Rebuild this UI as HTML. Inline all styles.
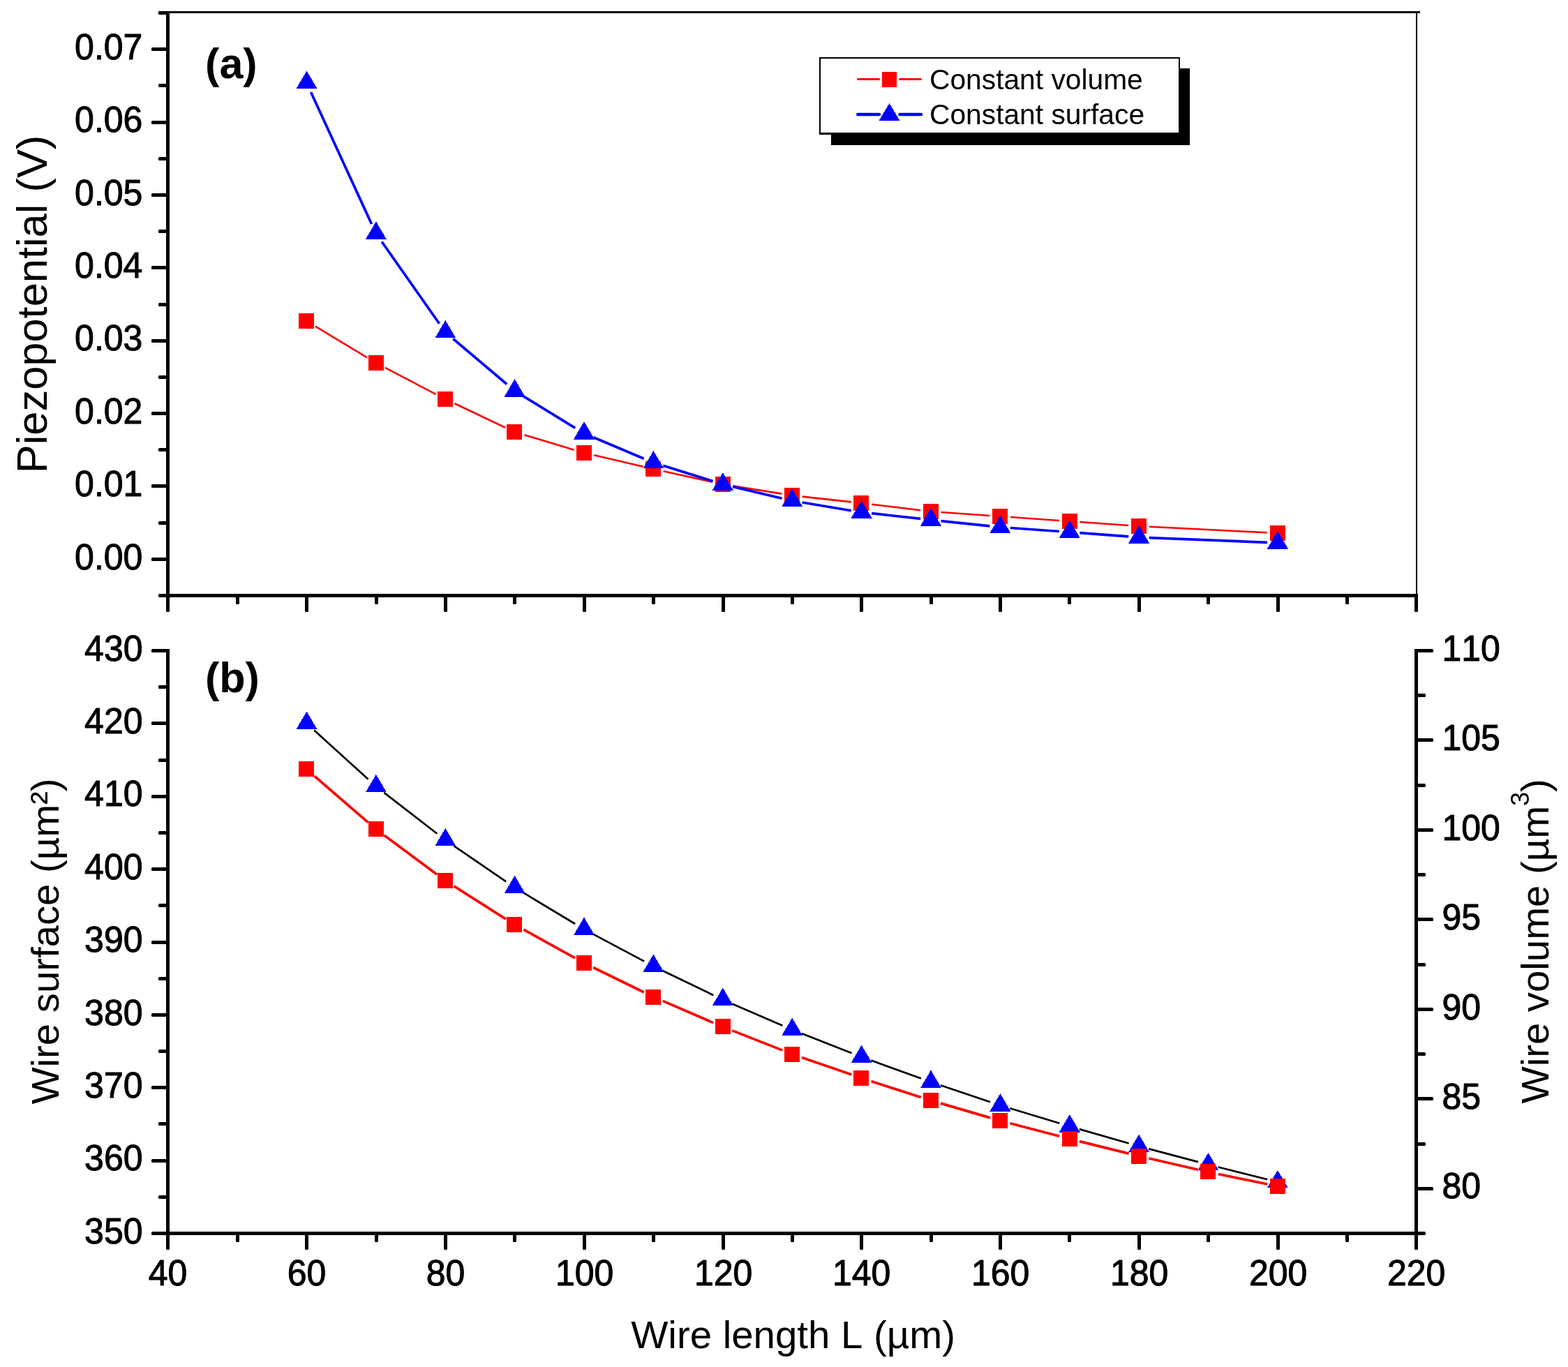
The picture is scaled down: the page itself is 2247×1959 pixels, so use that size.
<!DOCTYPE html>
<html><head><meta charset="utf-8"><title>Piezopotential vs wire length</title>
<style>
html,body{margin:0;padding:0;background:#fff;}
body{width:2247px;height:1959px;overflow:hidden;}
svg{display:block;font-family:"Liberation Sans",Arial,Helvetica,sans-serif;fill:#000;font-kerning:none;}
svg rect,svg polygon{shape-rendering:crispEdges;}
svg rect.t{shape-rendering:auto;}
</style></head><body>
<svg width="2247" height="1959" viewBox="0 0 2247 1959">
<rect x="0" y="0" width="2247" height="1959" fill="#fff"/>
<rect x="227" y="16" width="1808" height="3" fill="#000"/>
<rect class="t" x="227" y="16" width="13" height="5" rx="1.6" ry="1.6" fill="#000"/>
<rect class="t" x="227" y="851" width="13" height="5" rx="1.6" ry="1.6" fill="#000"/>
<rect x="238" y="16" width="5" height="854" fill="#000"/>
<rect x="2029" y="16" width="2" height="836" fill="#000"/>
<rect x="238" y="851" width="1794" height="5" fill="#000"/>
<rect class="t" x="217" y="799" width="23" height="5" rx="1.6" ry="1.6" fill="#000"/>
<text transform="translate(204.4 815.513) scale(1 1.04)" font-size="50" text-anchor="end" stroke="#000" stroke-width="1.0" stroke-linejoin="round">0.00</text>
<rect class="t" x="217" y="694" width="23" height="5" rx="1.6" ry="1.6" fill="#000"/>
<text transform="translate(204.4 711.138) scale(1 1.04)" font-size="50" text-anchor="end" stroke="#000" stroke-width="1.0" stroke-linejoin="round">0.01</text>
<rect class="t" x="217" y="590" width="23" height="5" rx="1.6" ry="1.6" fill="#000"/>
<text transform="translate(204.4 606.763) scale(1 1.04)" font-size="50" text-anchor="end" stroke="#000" stroke-width="1.0" stroke-linejoin="round">0.02</text>
<rect class="t" x="217" y="486" width="23" height="5" rx="1.6" ry="1.6" fill="#000"/>
<text transform="translate(204.4 502.388) scale(1 1.04)" font-size="50" text-anchor="end" stroke="#000" stroke-width="1.0" stroke-linejoin="round">0.03</text>
<rect class="t" x="217" y="381" width="23" height="5" rx="1.6" ry="1.6" fill="#000"/>
<text transform="translate(204.4 398.013) scale(1 1.04)" font-size="50" text-anchor="end" stroke="#000" stroke-width="1.0" stroke-linejoin="round">0.04</text>
<rect class="t" x="217" y="277" width="23" height="5" rx="1.6" ry="1.6" fill="#000"/>
<text transform="translate(204.4 293.637) scale(1 1.04)" font-size="50" text-anchor="end" stroke="#000" stroke-width="1.0" stroke-linejoin="round">0.05</text>
<rect class="t" x="217" y="173" width="23" height="5" rx="1.6" ry="1.6" fill="#000"/>
<text transform="translate(204.4 189.262) scale(1 1.04)" font-size="50" text-anchor="end" stroke="#000" stroke-width="1.0" stroke-linejoin="round">0.06</text>
<rect class="t" x="217" y="68" width="23" height="5" rx="1.6" ry="1.6" fill="#000"/>
<text transform="translate(204.4 84.8875) scale(1 1.04)" font-size="50" text-anchor="end" stroke="#000" stroke-width="1.0" stroke-linejoin="round">0.07</text>
<rect class="t" x="227" y="747" width="13" height="5" rx="1.6" ry="1.6" fill="#000"/>
<rect class="t" x="227" y="642" width="13" height="5" rx="1.6" ry="1.6" fill="#000"/>
<rect class="t" x="227" y="538" width="13" height="5" rx="1.6" ry="1.6" fill="#000"/>
<rect class="t" x="227" y="434" width="13" height="5" rx="1.6" ry="1.6" fill="#000"/>
<rect class="t" x="227" y="329" width="13" height="5" rx="1.6" ry="1.6" fill="#000"/>
<rect class="t" x="227" y="225" width="13" height="5" rx="1.6" ry="1.6" fill="#000"/>
<rect class="t" x="227" y="120" width="13" height="5" rx="1.6" ry="1.6" fill="#000"/>
<rect class="t" x="238" y="852" width="5" height="25" rx="1.6" ry="1.6" fill="#000"/>
<rect class="t" x="338" y="852" width="5" height="14" rx="1.6" ry="1.6" fill="#000"/>
<rect class="t" x="437" y="852" width="5" height="25" rx="1.6" ry="1.6" fill="#000"/>
<rect class="t" x="537" y="852" width="5" height="14" rx="1.6" ry="1.6" fill="#000"/>
<rect class="t" x="636" y="852" width="5" height="25" rx="1.6" ry="1.6" fill="#000"/>
<rect class="t" x="735" y="852" width="5" height="14" rx="1.6" ry="1.6" fill="#000"/>
<rect class="t" x="835" y="852" width="5" height="25" rx="1.6" ry="1.6" fill="#000"/>
<rect class="t" x="934" y="852" width="5" height="14" rx="1.6" ry="1.6" fill="#000"/>
<rect class="t" x="1034" y="852" width="5" height="25" rx="1.6" ry="1.6" fill="#000"/>
<rect class="t" x="1133" y="852" width="5" height="14" rx="1.6" ry="1.6" fill="#000"/>
<rect class="t" x="1232" y="852" width="5" height="25" rx="1.6" ry="1.6" fill="#000"/>
<rect class="t" x="1332" y="852" width="5" height="14" rx="1.6" ry="1.6" fill="#000"/>
<rect class="t" x="1431" y="852" width="5" height="25" rx="1.6" ry="1.6" fill="#000"/>
<rect class="t" x="1530" y="852" width="5" height="14" rx="1.6" ry="1.6" fill="#000"/>
<rect class="t" x="1630" y="852" width="5" height="25" rx="1.6" ry="1.6" fill="#000"/>
<rect class="t" x="1729" y="852" width="5" height="14" rx="1.6" ry="1.6" fill="#000"/>
<rect class="t" x="1829" y="852" width="5" height="25" rx="1.6" ry="1.6" fill="#000"/>
<rect class="t" x="1928" y="852" width="5" height="14" rx="1.6" ry="1.6" fill="#000"/>
<rect class="t" x="2027" y="852" width="5" height="25" rx="1.6" ry="1.6" fill="#000"/>
<rect x="238" y="930" width="5" height="855" fill="#000"/>
<rect x="2027" y="930" width="5" height="855" fill="#000"/>
<rect x="238" y="1765" width="1794" height="5" fill="#000"/>
<rect class="t" x="217" y="1765" width="23" height="5" rx="1.6" ry="1.6" fill="#000"/>
<text transform="translate(204.5 1781.7) scale(1 1.04)" font-size="50" text-anchor="end" stroke="#000" stroke-width="1.0" stroke-linejoin="round">350</text>
<rect class="t" x="227" y="1713" width="13" height="5" rx="1.6" ry="1.6" fill="#000"/>
<rect class="t" x="217" y="1661" width="23" height="5" rx="1.6" ry="1.6" fill="#000"/>
<text transform="translate(204.5 1677.33) scale(1 1.04)" font-size="50" text-anchor="end" stroke="#000" stroke-width="1.0" stroke-linejoin="round">360</text>
<rect class="t" x="227" y="1608" width="13" height="5" rx="1.6" ry="1.6" fill="#000"/>
<rect class="t" x="217" y="1556" width="23" height="5" rx="1.6" ry="1.6" fill="#000"/>
<text transform="translate(204.5 1572.95) scale(1 1.04)" font-size="50" text-anchor="end" stroke="#000" stroke-width="1.0" stroke-linejoin="round">370</text>
<rect class="t" x="227" y="1504" width="13" height="5" rx="1.6" ry="1.6" fill="#000"/>
<rect class="t" x="217" y="1452" width="23" height="5" rx="1.6" ry="1.6" fill="#000"/>
<text transform="translate(204.5 1468.58) scale(1 1.04)" font-size="50" text-anchor="end" stroke="#000" stroke-width="1.0" stroke-linejoin="round">380</text>
<rect class="t" x="227" y="1400" width="13" height="5" rx="1.6" ry="1.6" fill="#000"/>
<rect class="t" x="217" y="1348" width="23" height="5" rx="1.6" ry="1.6" fill="#000"/>
<text transform="translate(204.5 1364.2) scale(1 1.04)" font-size="50" text-anchor="end" stroke="#000" stroke-width="1.0" stroke-linejoin="round">390</text>
<rect class="t" x="227" y="1295" width="13" height="5" rx="1.6" ry="1.6" fill="#000"/>
<rect class="t" x="217" y="1243" width="23" height="5" rx="1.6" ry="1.6" fill="#000"/>
<text transform="translate(204.5 1259.83) scale(1 1.04)" font-size="50" text-anchor="end" stroke="#000" stroke-width="1.0" stroke-linejoin="round">400</text>
<rect class="t" x="227" y="1191" width="13" height="5" rx="1.6" ry="1.6" fill="#000"/>
<rect class="t" x="217" y="1139" width="23" height="5" rx="1.6" ry="1.6" fill="#000"/>
<text transform="translate(204.5 1155.45) scale(1 1.04)" font-size="50" text-anchor="end" stroke="#000" stroke-width="1.0" stroke-linejoin="round">410</text>
<rect class="t" x="227" y="1087" width="13" height="5" rx="1.6" ry="1.6" fill="#000"/>
<rect class="t" x="217" y="1034" width="23" height="5" rx="1.6" ry="1.6" fill="#000"/>
<text transform="translate(204.5 1051.08) scale(1 1.04)" font-size="50" text-anchor="end" stroke="#000" stroke-width="1.0" stroke-linejoin="round">420</text>
<rect class="t" x="227" y="982" width="13" height="5" rx="1.6" ry="1.6" fill="#000"/>
<rect class="t" x="217" y="930" width="23" height="5" rx="1.6" ry="1.6" fill="#000"/>
<text transform="translate(204.5 946.7) scale(1 1.04)" font-size="50" text-anchor="end" stroke="#000" stroke-width="1.0" stroke-linejoin="round">430</text>
<rect class="t" x="2028" y="1765" width="15" height="5" rx="1.6" ry="1.6" fill="#000"/>
<rect class="t" x="2028" y="1701" width="26" height="5" rx="1.6" ry="1.6" fill="#000"/>
<text transform="translate(2066.4 1717.47) scale(1 1.04)" font-size="50" text-anchor="start" stroke="#000" stroke-width="1.0" stroke-linejoin="round">80</text>
<rect class="t" x="2028" y="1637" width="15" height="5" rx="1.6" ry="1.6" fill="#000"/>
<rect class="t" x="2028" y="1572" width="26" height="5" rx="1.6" ry="1.6" fill="#000"/>
<text transform="translate(2066.4 1589.01) scale(1 1.04)" font-size="50" text-anchor="start" stroke="#000" stroke-width="1.0" stroke-linejoin="round">85</text>
<rect class="t" x="2028" y="1508" width="15" height="5" rx="1.6" ry="1.6" fill="#000"/>
<rect class="t" x="2028" y="1444" width="26" height="5" rx="1.6" ry="1.6" fill="#000"/>
<text transform="translate(2066.4 1460.55) scale(1 1.04)" font-size="50" text-anchor="start" stroke="#000" stroke-width="1.0" stroke-linejoin="round">90</text>
<rect class="t" x="2028" y="1380" width="15" height="5" rx="1.6" ry="1.6" fill="#000"/>
<rect class="t" x="2028" y="1315" width="26" height="5" rx="1.6" ry="1.6" fill="#000"/>
<text transform="translate(2066.4 1332.08) scale(1 1.04)" font-size="50" text-anchor="start" stroke="#000" stroke-width="1.0" stroke-linejoin="round">95</text>
<rect class="t" x="2028" y="1251" width="15" height="5" rx="1.6" ry="1.6" fill="#000"/>
<rect class="t" x="2028" y="1187" width="26" height="5" rx="1.6" ry="1.6" fill="#000"/>
<text transform="translate(2066.4 1203.62) scale(1 1.04)" font-size="50" text-anchor="start" stroke="#000" stroke-width="1.0" stroke-linejoin="round">100</text>
<rect class="t" x="2028" y="1123" width="15" height="5" rx="1.6" ry="1.6" fill="#000"/>
<rect class="t" x="2028" y="1058" width="26" height="5" rx="1.6" ry="1.6" fill="#000"/>
<text transform="translate(2066.4 1075.16) scale(1 1.04)" font-size="50" text-anchor="start" stroke="#000" stroke-width="1.0" stroke-linejoin="round">105</text>
<rect class="t" x="2028" y="994" width="15" height="5" rx="1.6" ry="1.6" fill="#000"/>
<rect class="t" x="2028" y="930" width="26" height="5" rx="1.6" ry="1.6" fill="#000"/>
<text transform="translate(2066.4 946.7) scale(1 1.04)" font-size="50" text-anchor="start" stroke="#000" stroke-width="1.0" stroke-linejoin="round">110</text>
<rect class="t" x="238" y="1766" width="5" height="25" rx="1.6" ry="1.6" fill="#000"/>
<text transform="translate(240.6 1841.8) scale(1 1.04)" font-size="50" text-anchor="middle" stroke="#000" stroke-width="1.0" stroke-linejoin="round">40</text>
<rect class="t" x="338" y="1766" width="5" height="14" rx="1.6" ry="1.6" fill="#000"/>
<rect class="t" x="437" y="1766" width="5" height="25" rx="1.6" ry="1.6" fill="#000"/>
<text transform="translate(439.6 1841.8) scale(1 1.04)" font-size="50" text-anchor="middle" stroke="#000" stroke-width="1.0" stroke-linejoin="round">60</text>
<rect class="t" x="537" y="1766" width="5" height="14" rx="1.6" ry="1.6" fill="#000"/>
<rect class="t" x="636" y="1766" width="5" height="25" rx="1.6" ry="1.6" fill="#000"/>
<text transform="translate(638.6 1841.8) scale(1 1.04)" font-size="50" text-anchor="middle" stroke="#000" stroke-width="1.0" stroke-linejoin="round">80</text>
<rect class="t" x="735" y="1766" width="5" height="14" rx="1.6" ry="1.6" fill="#000"/>
<rect class="t" x="835" y="1766" width="5" height="25" rx="1.6" ry="1.6" fill="#000"/>
<text transform="translate(837.6 1841.8) scale(1 1.04)" font-size="50" text-anchor="middle" stroke="#000" stroke-width="1.0" stroke-linejoin="round">100</text>
<rect class="t" x="934" y="1766" width="5" height="14" rx="1.6" ry="1.6" fill="#000"/>
<rect class="t" x="1034" y="1766" width="5" height="25" rx="1.6" ry="1.6" fill="#000"/>
<text transform="translate(1036.6 1841.8) scale(1 1.04)" font-size="50" text-anchor="middle" stroke="#000" stroke-width="1.0" stroke-linejoin="round">120</text>
<rect class="t" x="1133" y="1766" width="5" height="14" rx="1.6" ry="1.6" fill="#000"/>
<rect class="t" x="1232" y="1766" width="5" height="25" rx="1.6" ry="1.6" fill="#000"/>
<text transform="translate(1234.6 1841.8) scale(1 1.04)" font-size="50" text-anchor="middle" stroke="#000" stroke-width="1.0" stroke-linejoin="round">140</text>
<rect class="t" x="1332" y="1766" width="5" height="14" rx="1.6" ry="1.6" fill="#000"/>
<rect class="t" x="1431" y="1766" width="5" height="25" rx="1.6" ry="1.6" fill="#000"/>
<text transform="translate(1433.6 1841.8) scale(1 1.04)" font-size="50" text-anchor="middle" stroke="#000" stroke-width="1.0" stroke-linejoin="round">160</text>
<rect class="t" x="1530" y="1766" width="5" height="14" rx="1.6" ry="1.6" fill="#000"/>
<rect class="t" x="1630" y="1766" width="5" height="25" rx="1.6" ry="1.6" fill="#000"/>
<text transform="translate(1632.6 1841.8) scale(1 1.04)" font-size="50" text-anchor="middle" stroke="#000" stroke-width="1.0" stroke-linejoin="round">180</text>
<rect class="t" x="1729" y="1766" width="5" height="14" rx="1.6" ry="1.6" fill="#000"/>
<rect class="t" x="1829" y="1766" width="5" height="25" rx="1.6" ry="1.6" fill="#000"/>
<text transform="translate(1831.6 1841.8) scale(1 1.04)" font-size="50" text-anchor="middle" stroke="#000" stroke-width="1.0" stroke-linejoin="round">200</text>
<rect class="t" x="1928" y="1766" width="5" height="14" rx="1.6" ry="1.6" fill="#000"/>
<rect class="t" x="2027" y="1766" width="5" height="25" rx="1.6" ry="1.6" fill="#000"/>
<text transform="translate(2029.6 1841.8) scale(1 1.04)" font-size="50" text-anchor="middle" stroke="#000" stroke-width="1.0" stroke-linejoin="round">220</text>
<text x="1136.6" y="1932" font-size="56.4" text-anchor="middle" font-weight="normal">Wire length L (µm)</text>
<text x="67" y="436" font-size="61.4" text-anchor="middle" font-weight="normal" transform="rotate(-90 67 436)">Piezopotential (V)</text>
<text x="83.5" y="1349" font-size="56.3" text-anchor="middle" font-weight="normal" transform="rotate(-90 83.5 1349)">Wire surface (µm²)</text>
<text x="2219.5" y="1348.8" font-size="56.3" text-anchor="middle" font-weight="normal" transform="rotate(-90 2219.5 1348.8)">Wire volume (µm<tspan font-size="36" dy="-28">3</tspan><tspan dy="28">)</tspan></text>
<text x="331.4" y="111.8" font-size="61" text-anchor="middle" font-weight="bold">(a)</text>
<text x="333" y="991.8" font-size="61" text-anchor="middle" font-weight="bold">(b)</text>
<line x1="451.9" y1="467.6" x2="526.0" y2="512.4" stroke="#f00" stroke-width="2.6"/>
<line x1="551.8" y1="526.9" x2="624.9" y2="565.1" stroke="#f00" stroke-width="2.6"/>
<line x1="651.4" y1="578.3" x2="724.1" y2="612.7" stroke="#f00" stroke-width="2.6"/>
<line x1="751.6" y1="623.3" x2="822.7" y2="644.7" stroke="#f00" stroke-width="2.6"/>
<line x1="851.3" y1="652.3" x2="921.8" y2="668.7" stroke="#f00" stroke-width="2.6"/>
<line x1="950.7" y1="675.2" x2="1021.2" y2="690.8" stroke="#f00" stroke-width="2.6"/>
<line x1="1050.2" y1="696.4" x2="1120.4" y2="707.6" stroke="#f00" stroke-width="2.6"/>
<line x1="1149.7" y1="711.6" x2="1219.7" y2="719.4" stroke="#f00" stroke-width="2.6"/>
<line x1="1249.1" y1="722.8" x2="1319.1" y2="731.2" stroke="#f00" stroke-width="2.6"/>
<line x1="1348.5" y1="734.0" x2="1418.4" y2="739.0" stroke="#f00" stroke-width="2.6"/>
<line x1="1447.9" y1="741.0" x2="1517.8" y2="746.0" stroke="#f00" stroke-width="2.6"/>
<line x1="1547.3" y1="748.0" x2="1617.2" y2="753.0" stroke="#f00" stroke-width="2.6"/>
<line x1="1646.7" y1="754.7" x2="1815.9" y2="763.3" stroke="#f00" stroke-width="2.6"/>
<rect x="428" y="449" width="22" height="22" fill="#f00"/>
<rect x="528" y="509" width="22" height="22" fill="#f00"/>
<rect x="627" y="561" width="22" height="22" fill="#f00"/>
<rect x="726" y="608" width="22" height="22" fill="#f00"/>
<rect x="826" y="638" width="22" height="22" fill="#f00"/>
<rect x="925" y="661" width="22" height="22" fill="#f00"/>
<rect x="1025" y="683" width="22" height="22" fill="#f00"/>
<rect x="1124" y="699" width="22" height="22" fill="#f00"/>
<rect x="1223" y="710" width="22" height="22" fill="#f00"/>
<rect x="1323" y="722" width="22" height="22" fill="#f00"/>
<rect x="1422" y="729" width="22" height="22" fill="#f00"/>
<rect x="1522" y="736" width="22" height="22" fill="#f00"/>
<rect x="1621" y="743" width="22" height="22" fill="#f00"/>
<rect x="1820" y="753" width="22" height="22" fill="#f00"/>
<line x1="445.5" y1="131.9" x2="532.5" y2="321.0" stroke="#00f" stroke-width="3.7"/>
<line x1="547.2" y1="346.5" x2="629.5" y2="463.8" stroke="#00f" stroke-width="3.7"/>
<line x1="649.3" y1="485.5" x2="726.2" y2="550.5" stroke="#00f" stroke-width="3.7"/>
<line x1="750.1" y1="567.8" x2="824.2" y2="613.3" stroke="#00f" stroke-width="3.7"/>
<line x1="850.5" y1="626.7" x2="922.6" y2="657.2" stroke="#00f" stroke-width="3.7"/>
<line x1="950.3" y1="667.3" x2="1021.5" y2="689.6" stroke="#00f" stroke-width="3.7"/>
<line x1="1050.0" y1="697.4" x2="1120.6" y2="714.2" stroke="#00f" stroke-width="3.7"/>
<line x1="1149.6" y1="720.0" x2="1219.8" y2="731.7" stroke="#00f" stroke-width="3.7"/>
<line x1="1249.1" y1="735.7" x2="1319.1" y2="743.4" stroke="#00f" stroke-width="3.7"/>
<line x1="1348.5" y1="746.6" x2="1418.4" y2="753.9" stroke="#00f" stroke-width="3.7"/>
<line x1="1447.9" y1="756.5" x2="1517.8" y2="761.5" stroke="#00f" stroke-width="3.7"/>
<line x1="1547.3" y1="763.6" x2="1617.2" y2="768.9" stroke="#00f" stroke-width="3.7"/>
<line x1="1646.7" y1="770.6" x2="1815.9" y2="777.4" stroke="#00f" stroke-width="3.7"/>
<polygon points="439.5,101.5 424.5,127.0 454.5,127.0" fill="#00f"/>
<polygon points="538.9,317.4 523.9,342.9 553.9,342.9" fill="#00f"/>
<polygon points="638.3,458.9 623.3,484.4 653.3,484.4" fill="#00f"/>
<polygon points="737.6,543.1 722.6,568.6 752.6,568.6" fill="#00f"/>
<polygon points="837.0,604.0 822.0,629.5 852.0,629.5" fill="#00f"/>
<polygon points="936.4,645.9 921.4,671.4 951.4,671.4" fill="#00f"/>
<polygon points="1035.8,677.0 1020.8,702.5 1050.8,702.5" fill="#00f"/>
<polygon points="1135.2,700.6 1120.2,726.1 1150.2,726.1" fill="#00f"/>
<polygon points="1234.6,717.1 1219.6,742.6 1249.6,742.6" fill="#00f"/>
<polygon points="1334.0,728.0 1319.0,753.5 1349.0,753.5" fill="#00f"/>
<polygon points="1433.4,738.5 1418.4,764.0 1448.4,764.0" fill="#00f"/>
<polygon points="1532.8,745.5 1517.8,771.0 1547.8,771.0" fill="#00f"/>
<polygon points="1632.1,753.0 1617.1,778.5 1647.1,778.5" fill="#00f"/>
<polygon points="1830.9,761.0 1815.9,786.5 1845.9,786.5" fill="#00f"/>
<line x1="450.2" y1="1046.5" x2="527.7" y2="1116.8" stroke="#000" stroke-width="2.7"/>
<line x1="550.4" y1="1135.9" x2="626.4" y2="1194.7" stroke="#000" stroke-width="2.7"/>
<line x1="650.3" y1="1212.2" x2="725.2" y2="1263.4" stroke="#000" stroke-width="2.7"/>
<line x1="750.1" y1="1279.4" x2="824.2" y2="1324.0" stroke="#000" stroke-width="2.7"/>
<line x1="849.9" y1="1338.6" x2="923.2" y2="1377.6" stroke="#000" stroke-width="2.7"/>
<line x1="949.5" y1="1391.0" x2="1022.3" y2="1426.2" stroke="#000" stroke-width="2.7"/>
<line x1="1049.2" y1="1438.5" x2="1121.4" y2="1469.7" stroke="#000" stroke-width="2.7"/>
<line x1="1148.8" y1="1481.0" x2="1220.6" y2="1509.2" stroke="#000" stroke-width="2.7"/>
<line x1="1248.3" y1="1519.6" x2="1319.9" y2="1545.6" stroke="#000" stroke-width="2.7"/>
<line x1="1347.8" y1="1555.3" x2="1419.1" y2="1579.3" stroke="#000" stroke-width="2.7"/>
<line x1="1447.3" y1="1588.3" x2="1518.4" y2="1609.7" stroke="#000" stroke-width="2.7"/>
<line x1="1546.8" y1="1618.1" x2="1617.7" y2="1638.5" stroke="#000" stroke-width="2.7"/>
<line x1="1646.3" y1="1646.4" x2="1717.0" y2="1665.1" stroke="#000" stroke-width="2.7"/>
<line x1="1745.7" y1="1672.5" x2="1816.4" y2="1690.3" stroke="#000" stroke-width="2.7"/>
<polygon points="439.5,1019.5 424.5,1045.0 454.5,1045.0" fill="#00f"/>
<polygon points="538.9,1109.8 523.9,1135.3 553.9,1135.3" fill="#00f"/>
<polygon points="638.3,1186.8 623.3,1212.3 653.3,1212.3" fill="#00f"/>
<polygon points="737.6,1254.8 722.6,1280.3 752.6,1280.3" fill="#00f"/>
<polygon points="837.0,1314.6 822.0,1340.1 852.0,1340.1" fill="#00f"/>
<polygon points="936.4,1367.6 921.4,1393.1 951.4,1393.1" fill="#00f"/>
<polygon points="1035.8,1415.6 1020.8,1441.1 1050.8,1441.1" fill="#00f"/>
<polygon points="1135.2,1458.6 1120.2,1484.1 1150.2,1484.1" fill="#00f"/>
<polygon points="1234.6,1497.6 1219.6,1523.1 1249.6,1523.1" fill="#00f"/>
<polygon points="1334.0,1533.6 1319.0,1559.1 1349.0,1559.1" fill="#00f"/>
<polygon points="1433.4,1567.0 1418.4,1592.5 1448.4,1592.5" fill="#00f"/>
<polygon points="1532.8,1597.0 1517.8,1622.5 1547.8,1622.5" fill="#00f"/>
<polygon points="1632.1,1625.6 1617.1,1651.1 1647.1,1651.1" fill="#00f"/>
<polygon points="1731.5,1651.9 1716.5,1677.4 1746.5,1677.4" fill="#00f"/>
<polygon points="1830.9,1676.9 1815.9,1702.4 1845.9,1702.4" fill="#00f"/>
<line x1="450.5" y1="1112.1" x2="527.5" y2="1178.6" stroke="#f00" stroke-width="3.7"/>
<line x1="550.6" y1="1197.1" x2="626.2" y2="1253.2" stroke="#f00" stroke-width="3.7"/>
<line x1="650.6" y1="1269.9" x2="724.9" y2="1317.1" stroke="#f00" stroke-width="3.7"/>
<line x1="750.4" y1="1332.2" x2="823.9" y2="1372.8" stroke="#f00" stroke-width="3.7"/>
<line x1="850.1" y1="1386.5" x2="922.9" y2="1422.0" stroke="#f00" stroke-width="3.7"/>
<line x1="949.8" y1="1434.4" x2="1022.0" y2="1465.6" stroke="#f00" stroke-width="3.7"/>
<line x1="1049.4" y1="1476.9" x2="1121.2" y2="1505.1" stroke="#f00" stroke-width="3.7"/>
<line x1="1149.0" y1="1515.4" x2="1220.4" y2="1540.1" stroke="#f00" stroke-width="3.7"/>
<line x1="1248.5" y1="1549.5" x2="1319.7" y2="1572.5" stroke="#f00" stroke-width="3.7"/>
<line x1="1348.0" y1="1581.1" x2="1419.0" y2="1601.9" stroke="#f00" stroke-width="3.7"/>
<line x1="1447.5" y1="1609.7" x2="1518.2" y2="1628.3" stroke="#f00" stroke-width="3.7"/>
<line x1="1546.9" y1="1635.6" x2="1617.6" y2="1653.1" stroke="#f00" stroke-width="3.7"/>
<line x1="1646.4" y1="1660.0" x2="1716.9" y2="1676.2" stroke="#f00" stroke-width="3.7"/>
<line x1="1745.8" y1="1682.5" x2="1816.2" y2="1697.0" stroke="#f00" stroke-width="3.7"/>
<rect x="428" y="1091" width="22" height="22" fill="#f00"/>
<rect x="528" y="1177" width="22" height="22" fill="#f00"/>
<rect x="627" y="1251" width="22" height="22" fill="#f00"/>
<rect x="726" y="1314" width="22" height="22" fill="#f00"/>
<rect x="826" y="1369" width="22" height="22" fill="#f00"/>
<rect x="925" y="1418" width="22" height="22" fill="#f00"/>
<rect x="1025" y="1460" width="22" height="22" fill="#f00"/>
<rect x="1124" y="1500" width="22" height="22" fill="#f00"/>
<rect x="1223" y="1534" width="22" height="22" fill="#f00"/>
<rect x="1323" y="1566" width="22" height="22" fill="#f00"/>
<rect x="1422" y="1595" width="22" height="22" fill="#f00"/>
<rect x="1522" y="1621" width="22" height="22" fill="#f00"/>
<rect x="1621" y="1646" width="22" height="22" fill="#f00"/>
<rect x="1720" y="1668" width="22" height="22" fill="#f00"/>
<rect x="1820" y="1689" width="22" height="22" fill="#f00"/>
<rect x="1191" y="98" width="514" height="110" fill="#000"/>
<rect x="1174" y="82" width="517" height="111" fill="#000"/>
<rect x="1176" y="84" width="513" height="106" fill="#fff"/>
<line x1="1229.5" y1="113.5" x2="1259.5" y2="113.5" stroke="#f00" stroke-width="3" stroke-linecap="round"/>
<line x1="1289.5" y1="113.5" x2="1319.5" y2="113.5" stroke="#f00" stroke-width="3" stroke-linecap="round"/>
<rect x="1264" y="103" width="21" height="22" fill="#f00"/>
<line x1="1229.2" y1="164" x2="1260" y2="164" stroke="#00f" stroke-width="4.4" stroke-linecap="round"/>
<line x1="1289.4" y1="164" x2="1320" y2="164" stroke="#00f" stroke-width="4.4" stroke-linecap="round"/>
<polygon points="1274.5,148 1259.5,173 1289.5,173" fill="#00f"/>
<text x="1332" y="128" font-size="40.75" text-anchor="start" font-weight="normal">Constant volume</text>
<text x="1332" y="178" font-size="40.75" text-anchor="start" font-weight="normal">Constant surface</text>
</svg>
</body></html>
